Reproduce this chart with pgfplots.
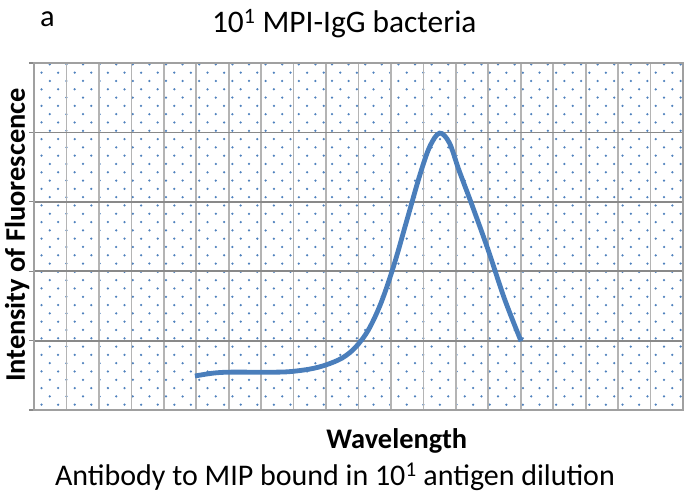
\documentclass[border=0pt]{standalone}
\usepackage{pgfplots}
\pgfplotsset{compat=1.18}
\usetikzlibrary{patterns}
\usepackage{fontspec}
\setmainfont{Carlito}

\definecolor{curveblue}{HTML}{4A7EBB}
\definecolor{dotblue}{HTML}{4F81BD}
\definecolor{vgrid}{HTML}{B4B4B4}
\definecolor{hgrid}{HTML}{898989}
\definecolor{frame}{HTML}{A0A0A0}

% staggered dot fill of the plot area
\pgfdeclarepatternformonly{stagdots}{\pgfqpoint{-1.5bp}{-1.5bp}}{\pgfqpoint{10bp}{10bp}}{\pgfqpoint{16.6bp}{16.6bp}}{
  \pgfpathcircle{\pgfqpoint{0bp}{0bp}}{1.25bp}
  \pgfpathcircle{\pgfqpoint{8.3bp}{8.3bp}}{1.25bp}
  \pgfusepath{fill}}

\begin{document}
\begin{tikzpicture}
\useasboundingbox (-34bp,-86bp) rectangle (651bp,410bp);
\begin{axis}[
    at={(0,0)}, anchor=south west,
    scale only axis, width=649bp, height=347bp,
    xmin=0, xmax=20, ymin=0, ymax=5,
    xtick={0,...,20}, ytick={0,...,5},
    xticklabels={}, yticklabels={},
    grid=major,
    x grid style={vgrid, line width=1.7bp},
    y grid style={hgrid, line width=1.8bp},
    axis line style={frame, line width=1.6bp},
    tick align=outside, ytick pos=left,
    xtick style={draw=none},
    ytick style={hgrid, line width=1.3bp},
    major tick length=5bp,
    axis background/.style={pattern=stagdots, pattern color=dotblue},
    title={10\textsuperscript{1} MPI-IgG bacteria},
    title style={at={(rel axis cs:0.478,1)}, anchor=base, yshift=25bp,
        font=\fontsize{31.5}{34}\selectfont},
    xlabel={Wavelength},
    xlabel style={at={(rel axis cs:0.559,0)}, anchor=base, yshift=-38bp,
        font=\fontsize{28.5}{32}\selectfont\bfseries},
    ylabel={Intensity of Fluorescence},
    ylabel style={at={(axis description cs:-0.0139,0.504)}, anchor=base,
        font=\fontsize{28.5}{32}\selectfont\bfseries},
]
\addplot[curveblue, line width=4.8bp, smooth, tension=0.55] coordinates {
    (4.96,0.49) (5.5,0.53) (6.0,0.545) (7.0,0.545) (7.8,0.55)
    (8.5,0.59) (9.0,0.65) (9.5,0.75) (9.9,0.90) (10.3,1.15)
    (10.7,1.55) (11.1,2.10) (11.5,2.75) (11.9,3.40) (12.2,3.80)
    (12.5,3.99) (12.8,3.85) (13.1,3.45) (13.5,2.95) (14.0,2.30)
    (14.5,1.60) (15.01,0.99)
};
\end{axis}
\node[font=\fontsize{30.5}{34}\selectfont, anchor=base] at (13.5bp,383bp) {a};
\node[font=\fontsize{30.1}{34}\selectfont, anchor=base] at (301bp,-75bp) {Antibody to MIP bound in 10\textsuperscript{1} antigen dilution};
\end{tikzpicture}
\end{document}
